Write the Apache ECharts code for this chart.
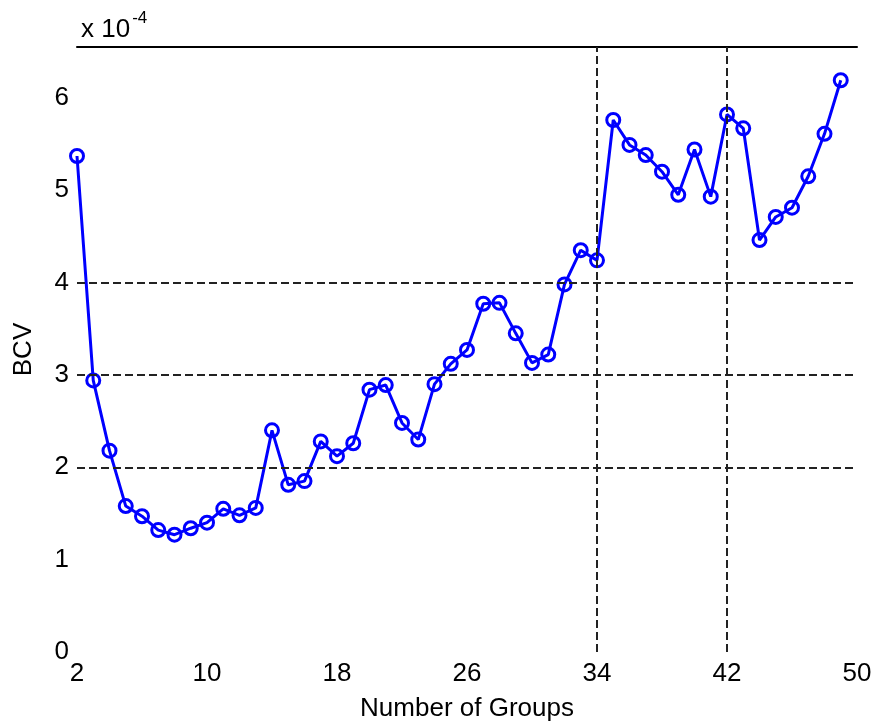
<!DOCTYPE html>
<html>
<head>
<meta charset="utf-8">
<script src="https://cdn.jsdelivr.net/npm/echarts@6/dist/echarts.min.js"></script>
<style>
html,body{margin:0;padding:0;background:#fff;}
#chart{width:876px;height:727px;}
</style>
</head>
<body>
<div id="chart"></div>
<script>
// Number of groups (category axis, 2..50)
const groups = ['2','3','4','5','6','7','8','9','10','11','12','13','14','15','16','17','18','19','20',
  '21','22','23','24','25','26','27','28','29','30','31','32','33','34','35','36','37','38','39','40',
  '41','42','43','44','45','46','47','48','49','50'];
// BCV values (x 10^-4) for groups 2..49
const bcv = [5.37, 2.94, 2.18, 1.58, 1.47, 1.32, 1.27, 1.34, 1.40, 1.55, 1.48, 1.56, 2.40,
  1.81, 1.85, 2.28, 2.12, 2.26, 2.84, 2.89, 2.48, 2.30, 2.90, 3.12, 3.27, 3.77, 3.78,
  3.45, 3.13, 3.22, 3.98, 4.35, 4.24, 5.76, 5.49, 5.38, 5.20, 4.95, 5.44, 4.93, 5.82,
  5.67, 4.46, 4.71, 4.81, 5.15, 5.61, 6.19];
// Dashed reference grid lines
const hGrid = [2, 3, 4];
const vGrid = ['34', '42'];

const font = 'Liberation Sans, Arial, sans-serif';
const chart = echarts.init(document.getElementById('chart'));
const dash = {type: [8, 4], color: '#222', width: 2};
chart.setOption({
  animation: false,
  backgroundColor: '#fff',
  title: {
    left: 76, top: 5,
    text: '{a|x 10}{b|-4}',
    textStyle: {
      fontWeight: 'normal',
      rich: {
        a: {fontSize: 26, fontFamily: font, fontWeight: 'normal', color: '#000', verticalAlign: 'bottom', lineHeight: 30},
        b: {fontSize: 17, fontFamily: font, fontWeight: 'normal', color: '#000', verticalAlign: 'bottom', padding: [0, 0, 16, 2]}
      }
    }
  },
  grid: {left: 77, right: 19, top: 47, bottom: 74},
  xAxis: [{
    type: 'category',
    data: groups,
    boundaryGap: false,
    name: 'Number of Groups',
    nameLocation: 'middle',
    nameGap: 44,
    nameTextStyle: {fontSize: 26, fontFamily: font, color: '#000'},
    axisLine: {show: false},
    axisTick: {show: false},
    splitLine: {show: false},
    axisLabel: {interval: 7, fontSize: 26, fontFamily: font, color: '#000', margin: 9}
  }, {
    type: 'value',
    position: 'top',
    min: 0, max: 1,
    axisLine: {show: true, lineStyle: {color: '#000', width: 2}},
    axisTick: {show: false},
    axisLabel: {show: false},
    splitLine: {show: false}
  }],
  yAxis: {
    type: 'value',
    min: 0, max: 6.55, interval: 1,
    name: 'BCV',
    nameLocation: 'middle',
    nameGap: 40,
    nameTextStyle: {fontSize: 26, fontFamily: font, color: '#000'},
    axisLine: {show: false},
    axisTick: {show: false},
    splitLine: {show: false},
    axisLabel: {
      fontSize: 26, fontFamily: font, color: '#000', margin: 8,
      formatter: v => Number.isInteger(v) ? String(v) : ''
    }
  },
  series: [{
    type: 'line',
    data: bcv,
    xAxisIndex: 0,
    symbol: 'circle',
    symbolSize: 13,
    showAllSymbol: true,
    lineStyle: {color: '#0000ff', width: 3},
    itemStyle: {color: 'rgba(0,0,0,0)', borderColor: '#0000ff', borderWidth: 3},
    emphasis: {disabled: true},
    markLine: {
      silent: true,
      symbol: 'none',
      label: {show: false},
      lineStyle: dash,
      data: hGrid.map(v => ({yAxis: v})).concat(vGrid.map(v => ({xAxis: v})))
    }
  }]
});
</script>
</body>
</html>
